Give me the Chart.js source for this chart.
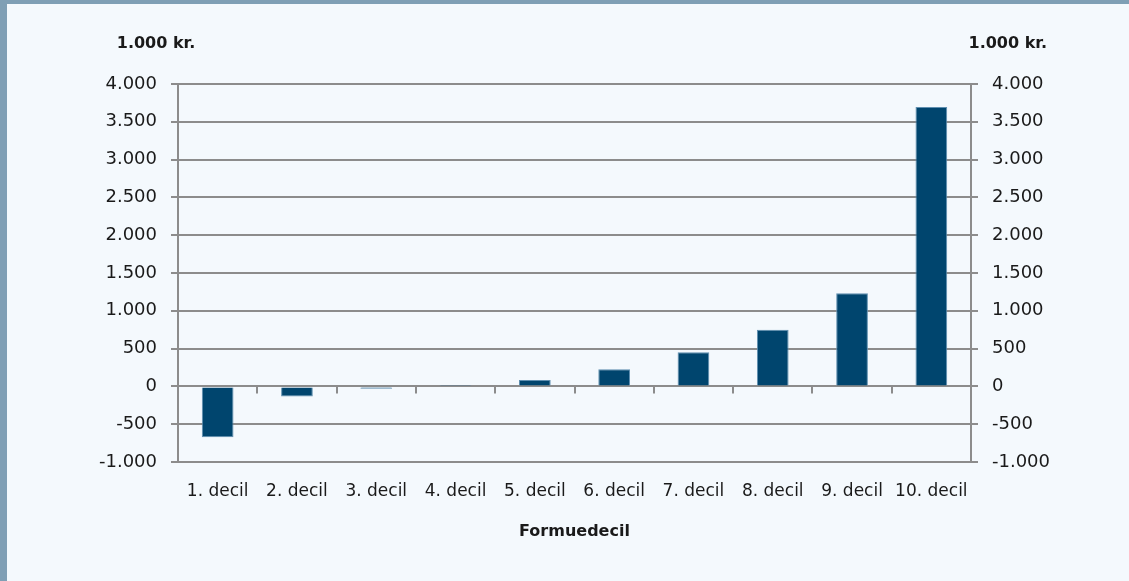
<!DOCTYPE html>
<html>
<head>
<meta charset="utf-8">
<script src="https://cdn.jsdelivr.net/npm/chart.js@4"></script>
<style>
    html, body { margin: 0; padding: 0; }
    body { width: 1129px; height: 581px; background: #7f9fb5; position: relative; overflow: hidden; }
    #panel { position: absolute; left: 7px; top: 4px; right: 0; bottom: 0; background: #f4f9fd; }
    #chart { position: absolute; left: 0; top: 0; }
</style>
</head>
<body>
<div id="panel"></div>
<canvas id="chart" width="1129" height="581"></canvas>
<script>
// Chart data (1.000 kr.)
const categories = ['1. decil', '2. decil', '3. decil', '4. decil', '5. decil',
                    '6. decil', '7. decil', '8. decil', '9. decil', '10. decil'];
const values = [-672, -135, -30, 18, 85, 227, 452, 749, 1232, 3697];
const yTicks = [-1000, -500, 0, 500, 1000, 1500, 2000, 2500, 3000, 3500, 4000];
const unitLabel = '1.000 kr.';
const xTitle = 'Formuedecil';

const gridGray = '#8c8c8c';
const textColor = '#1a1a1a';

// Danish number format: 1.000, -1.000
function fmt(v) {
    const s = String(Math.abs(v)).replace(/\B(?=(\d{3})+(?!\d))/g, '.');
    return (v < 0 ? '-' : '') + s;
}

// Unit labels above both value axes and small category ticks on the zero line
const extras = {
    id: 'extras',
    afterDraw(chart) {
        const ctx = chart.ctx;
        const area = chart.chartArea;
        const x = chart.scales.x;
        const y = chart.scales.y;
        ctx.save();
        ctx.fillStyle = textColor;
        ctx.font = 'bold 16px "DejaVu Sans"';
        ctx.textBaseline = 'middle';
        ctx.textAlign = 'center';
        ctx.fillText(unitLabel, area.left - 22, area.top - 40);
        ctx.textAlign = 'right';
        ctx.fillText(unitLabel, area.right + 76, area.top - 40);

        const y0 = y.getPixelForValue(0);
        const half = (x.getPixelForValue(1) - x.getPixelForValue(0)) / 2;
        ctx.strokeStyle = gridGray;
        ctx.lineWidth = 2;
        ctx.beginPath();
        for (let i = 1; i < categories.length; i++) {
            const px = Math.round(x.getPixelForValue(i) - half);
            ctx.moveTo(px, y0);
            ctx.lineTo(px, y0 + 7);
        }
        ctx.stroke();
        ctx.restore();
    }
};

const yCommon = {
    min: -1000,
    max: 4000,
    afterBuildTicks(scale) { scale.ticks = yTicks.map(v => ({ value: v })); },
    border: { display: true, color: gridGray, width: 2 },
    ticks: {
        color: textColor,
        font: { family: 'DejaVu Sans', size: 18 },
        padding: 14,
        callback: v => fmt(v)
    }
};

new Chart(document.getElementById('chart').getContext('2d'), {
    type: 'bar',
    data: {
        labels: categories,
        datasets: [{
            data: values,
            backgroundColor: '#00456e',
            borderColor: '#5f8fb0',
            borderWidth: 1,
            barPercentage: 0.4,
            categoryPercentage: 1
        }]
    },
    options: {
        responsive: false,
        animation: false,
        layout: { padding: { top: 84, left: 0, right: 0, bottom: 0 } },
        plugins: { legend: { display: false }, tooltip: { enabled: false } },
        scales: {
            x: {
                grid: { display: false },
                border: { display: false },
                ticks: {
                    color: textColor,
                    font: { family: 'DejaVu Sans', size: 17 },
                    padding: 11,
                    maxRotation: 0,
                    autoSkip: false
                },
                title: {
                    display: true,
                    text: xTitle,
                    color: textColor,
                    font: { family: 'DejaVu Sans', size: 16, weight: 'bold' },
                    padding: { top: 22, bottom: 40 }
                },
                afterFit(scale) { scale.height = 119; }
            },
            y: Object.assign({}, yCommon, {
                position: 'left',
                grid: { color: gridGray, lineWidth: 2, tickLength: 7 },
                afterFit(scale) { scale.width = 178; }
            }),
            y2: Object.assign({}, yCommon, {
                position: 'right',
                grid: { drawOnChartArea: false, color: gridGray, lineWidth: 2, tickLength: 7 },
                afterFit(scale) { scale.width = 158; }
            })
        }
    },
    plugins: [extras]
});
</script>
</body>
</html>
